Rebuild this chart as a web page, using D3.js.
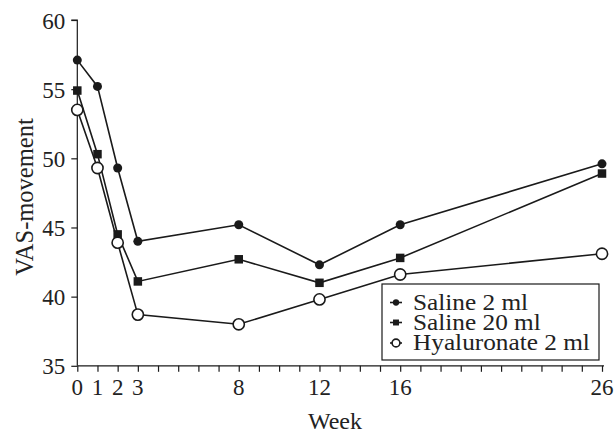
<!DOCTYPE html>
<html>
<head>
<meta charset="utf-8">
<script src="https://cdn.jsdelivr.net/npm/d3@7"></script>
<style>
  body { margin: 0; background: #fff; }
  svg { display: block; }
  text { font-family: "Liberation Serif", "Times New Roman", serif; fill: #222; }
</style>
</head>
<body>
<svg id="chart" width="616" height="433"></svg>
<script>
const weeks = [0, 1, 2, 3, 8, 12, 16, 26];
const saline2 = [57.1, 55.2, 49.3, 44.0, 45.2, 42.3, 45.2, 49.6];
const saline20 = [54.9, 50.3, 44.5, 41.1, 42.7, 41.0, 42.8, 48.9];
const hyaluronate2 = [53.5, 49.3, 43.9, 38.7, 38.0, 39.8, 41.6, 43.1];
const seriesNames = ["Saline 2 ml", "Saline 20 ml", "Hyaluronate 2 ml"];
const xTickLabels = [0, 1, 2, 3, 8, 12, 16, 26];
const yTicks = [35, 40, 45, 50, 55, 60];

const svg = d3.select("#chart");
const x = d3.scaleLinear().domain([0, 26]).range([77.3, 602]);
const y = d3.scaleLinear().domain([35, 60]).range([365.8, 20]);

const ink = "#1a1a1a";

// Y axis
const yAxis = d3.axisLeft(y).tickValues(yTicks).tickSize(6).tickPadding(6);
const gy = svg.append("g").attr("transform", `translate(${x(0)},0)`).call(yAxis);
gy.select(".domain").attr("stroke", ink).attr("stroke-width", 1.2).attr("d", `M-6,${y(60)}H0V${y(35)}`);
gy.selectAll(".tick line").attr("stroke", ink).attr("stroke-width", 1.2);
gy.selectAll(".tick text").style("font-size", "23px").attr("fill", "#222").attr("dy", "0.35em");

// X axis: minor ticks every week, labels only at selected weeks
const gx = svg.append("g").attr("transform", `translate(0,${y(35)})`);
gx.call(d3.axisBottom(x).tickValues(d3.range(0, 27)).tickSize(6).tickFormat(""));
gx.select(".domain").attr("stroke", ink).attr("stroke-width", 1.2).attr("d", `M${x(0)},0H${x(26) + 2}`);
gx.selectAll(".tick line").attr("stroke", ink).attr("stroke-width", 1.2);
gx.selectAll(".lbl").data(xTickLabels).enter().append("text")
  .attr("class", "lbl")
  .attr("x", d => x(d)).attr("y", 29)
  .attr("text-anchor", "middle")
  .style("font-size", "23px")
  .text(d => d);

// Axis titles
svg.append("text").attr("x", 335).attr("y", 429).attr("text-anchor", "middle")
  .style("font-size", "24px").text("Week");
svg.append("text").attr("transform", "translate(33,197) rotate(-90)").attr("text-anchor", "middle")
  .style("font-size", "24.5px").text("VAS-movement");

const line = d3.line().x((d, i) => x(weeks[i])).y(d => y(d));
const allSeries = [saline2, saline20, hyaluronate2];
allSeries.forEach(s => {
  svg.append("path").datum(s).attr("d", line).attr("fill", "none")
    .attr("stroke", ink).attr("stroke-width", 1.6);
});

function drawMarker(g, type, cx, cy, scale) {
  if (type === 0) {
    g.append("circle").attr("cx", cx).attr("cy", cy).attr("r", 4.5 * scale).attr("fill", ink);
  } else if (type === 1) {
    const s = 8.5 * scale;
    g.append("rect").attr("x", cx - s / 2).attr("y", cy - s / 2).attr("width", s).attr("height", s).attr("fill", ink);
  } else {
    g.append("circle").attr("cx", cx).attr("cy", cy).attr("r", 5.6 * scale)
      .attr("fill", "#fff").attr("stroke", ink).attr("stroke-width", 1.6);
  }
}

const mg = svg.append("g");
allSeries.forEach((s, k) => {
  s.forEach((v, i) => drawMarker(mg, k, x(weeks[i]), y(v), 1));
});

// Legend
const lg = svg.append("g");
lg.append("rect").attr("x", 382).attr("y", 284).attr("width", 217).attr("height", 76)
  .attr("fill", "#fff").attr("stroke", ink).attr("stroke-width", 1.2);
const rowY = [302.5, 322.5, 343];
seriesNames.forEach((n, k) => {
  lg.append("line").attr("x1", 390).attr("x2", 402).attr("y1", rowY[k]).attr("y2", rowY[k])
    .attr("stroke", ink).attr("stroke-width", 1.6);
  drawMarker(lg, k, 396, rowY[k], 0.7);
  lg.append("text").attr("transform", `translate(413,${rowY[k] + 7}) scale(1.1,1)`)
    .style("font-size", "23px").text(n);
});
</script>
</body>
</html>
